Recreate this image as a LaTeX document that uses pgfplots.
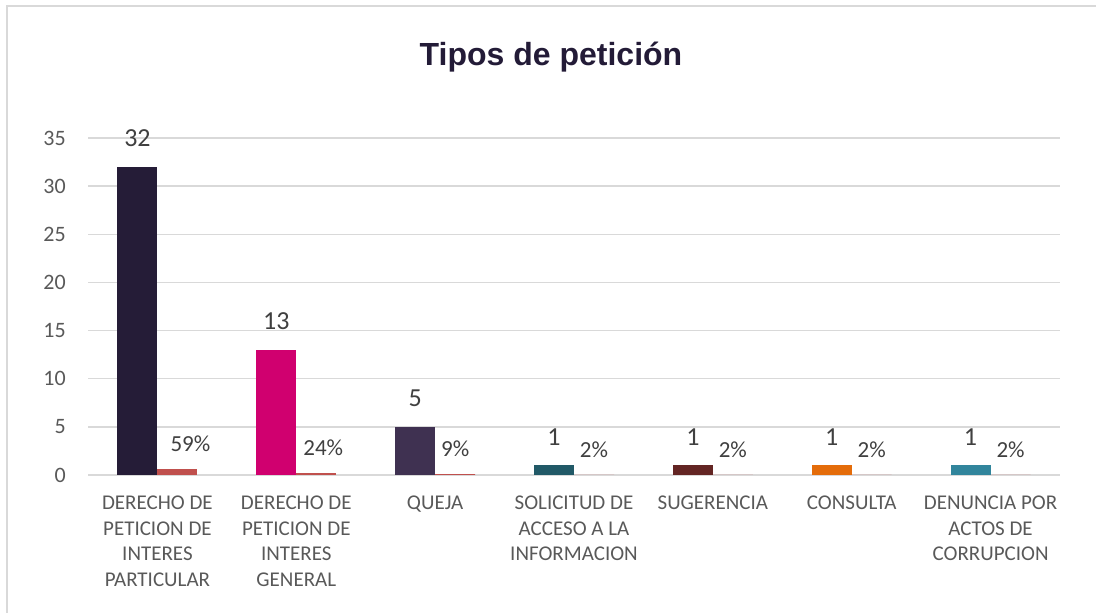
\documentclass[border=0pt]{standalone}
\usepackage{fontspec}
\setmainfont{Carlito}
\newfontfamily\titlefont{Liberation Sans}
\usepackage{pgfplots}
\pgfplotsset{compat=1.18}
\definecolor{bordergray}{HTML}{D9D9D9}
\definecolor{gridgray}{HTML}{D9D9D9}
\definecolor{labgray}{HTML}{595959}
\definecolor{datagray}{HTML}{404040}
\definecolor{titlecol}{HTML}{231B37}
\definecolor{cA}{HTML}{251C37}
\definecolor{cB}{HTML}{D0006F}
\definecolor{cC}{HTML}{3F3151}
\definecolor{cD}{HTML}{215967}
\definecolor{cE}{HTML}{632523}
\definecolor{cF}{HTML}{E46C0A}
\definecolor{cG}{HTML}{31859C}
\definecolor{cP}{HTML}{C0504D}
\begin{document}
\begin{tikzpicture}[x=1pt,y=1pt]
\path[use as bounding box] (0,0) rectangle (1096,613);
\draw[color=bordergray, line width=1.5pt] (7,0) -- (7,607) -- (1096,607);
\node[font=\titlefont\bfseries\fontsize{32}{38}\selectfont, text=titlecol] at (551,556) {Tipos de petición};
\begin{axis}[
  at={(88pt,138pt)}, anchor=south west,
  scale only axis, width=972pt, height=337pt,
  ybar, bar width=40pt,
  xmin=-0.5, xmax=6.5, ymin=0, ymax=35,
  enlargelimits=false,
  ytick={0,5,...,35},
  xtick={0,1,2,3,4,5,6},
  xticklabels={{DERECHO DE\\PETICION DE\\INTERES\\PARTICULAR},{DERECHO DE\\PETICION DE\\INTERES\\GENERAL},{QUEJA},{SOLICITUD DE\\ACCESO A LA\\INFORMACION},{SUGERENCIA},{CONSULTA},{DENUNCIA POR\\ACTOS DE\\CORRUPCION}},
  ymajorgrids,
  grid style={color=gridgray, line width=1.3pt},
  axis line style={draw=none},
  major tick length=0pt,
  tick style={draw=none},
  /pgf/number format/assume math mode=true,
  xticklabel style={align=center, font=\fontsize{21}{25.5}\selectfont, text=labgray, inner sep=0pt, anchor=north, yshift=-21pt},
  yticklabel style={font=\fontsize{22}{26}\selectfont, text=labgray, inner sep=0pt, anchor=east, xshift=-22pt},
  every node near coord/.append style={inner sep=0pt, text=datagray},
]
\addplot[fill=cA, draw=none, bar shift=-20pt, nodes near coords, every node near coord/.append style={font=\fontsize{26}{30}\selectfont, yshift=20pt}] coordinates {(0,32)};
\addplot[fill=cB, draw=none, bar shift=-20pt, nodes near coords, every node near coord/.append style={font=\fontsize{26}{30}\selectfont, yshift=20pt}] coordinates {(1,13)};
\addplot[fill=cC, draw=none, bar shift=-20pt, nodes near coords, every node near coord/.append style={font=\fontsize{26}{30}\selectfont, yshift=20pt}] coordinates {(2,5)};
\addplot[fill=cD, draw=none, bar shift=-20pt, nodes near coords, every node near coord/.append style={font=\fontsize{26}{30}\selectfont, yshift=20pt}] coordinates {(3,1)};
\addplot[fill=cE, draw=none, bar shift=-20pt, nodes near coords, every node near coord/.append style={font=\fontsize{26}{30}\selectfont, yshift=20pt}] coordinates {(4,1)};
\addplot[fill=cF, draw=none, bar shift=-20pt, nodes near coords, every node near coord/.append style={font=\fontsize{26}{30}\selectfont, yshift=20pt}] coordinates {(5,1)};
\addplot[fill=cG, draw=none, bar shift=-20pt, nodes near coords, every node near coord/.append style={font=\fontsize{26}{30}\selectfont, yshift=20pt}] coordinates {(6,1)};
\addplot[fill=cP, draw=none, bar shift=20pt, point meta=explicit symbolic, nodes near coords, every node near coord/.append style={font=\fontsize{23}{27}\selectfont, yshift=17pt, xshift=13pt}] coordinates {
  (0,0.593) [59\%]
};
\addplot[fill=cP, draw=none, bar shift=20pt, point meta=explicit symbolic, nodes near coords, every node near coord/.append style={font=\fontsize{23}{27}\selectfont, yshift=17pt, xshift=7pt}] coordinates {
  (1,0.241) [24\%]
};
\addplot[fill=cP, draw=none, bar shift=20pt, point meta=explicit symbolic, nodes near coords, every node near coord/.append style={font=\fontsize{23}{27}\selectfont, yshift=17pt}] coordinates {
  (2,0.093) [9\%]
  (3,0.0185) [2\%]
  (4,0.0185) [2\%]
  (5,0.0185) [2\%]
  (6,0.0185) [2\%]
};
\end{axis}
\end{tikzpicture}
\end{document}
